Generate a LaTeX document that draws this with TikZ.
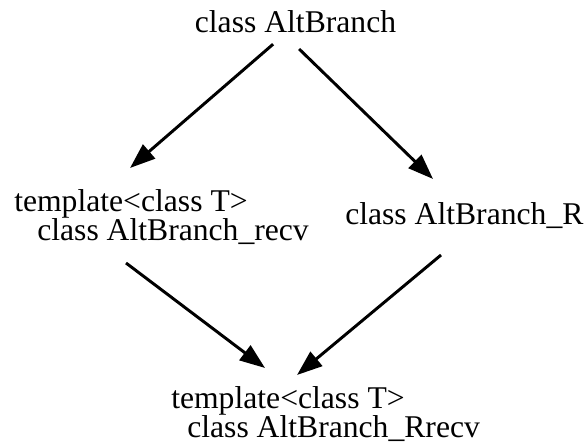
\documentclass[tikz,border=0pt]{standalone}
\usepackage{fontspec}
\setmainfont{Liberation Serif}
\usetikzlibrary{arrows.meta,positioning}

\begin{document}
\begin{tikzpicture}[
  x=0.025cm, y=-0.025cm,
  cls/.style={inner sep=0pt, font=\fontsize{22.5}{21.3}\selectfont,
    align=left},
  inherit/.style={line width=2.1pt,
    -{Triangle[length=18pt, width=13pt]}},
]
  \useasboundingbox (0,0) rectangle (585,444);
  % Classes (base west of the two-line nodes sits on the last line)
  \node[cls, anchor=base] (base) at (295.5,33) {class AltBranch};
  \node[cls, anchor=base west] (recv) at (14,241)
    {template<class T>\\\hspace*{16.4pt}class AltBranch\_recv};
  \node[cls, anchor=base west] (branchr) at (345,225)
    {class AltBranch\_R};
  \node[cls, anchor=base west] (rrecv) at (171,438)
    {template<class T>\\\hspace*{11.4pt}class AltBranch\_Rrecv};
  % Derivation arrows
  \draw[inherit] ([xshift=-0.56cm, yshift=-0.28cm]base.base)
    -- ([xshift=2.9cm, yshift=1.825cm]recv.base west);
  \draw[inherit] ([xshift=0.09cm, yshift=-0.4cm]base.base)
    -- ([xshift=2.2cm, yshift=1.15cm]branchr.base west);
  \draw[inherit] ([xshift=2.8cm, yshift=-0.55cm]recv.base west)
    -- ([xshift=2.35cm, yshift=1.75cm]rrecv.base west);
  \draw[inherit] ([xshift=2.4cm, yshift=-0.75cm]branchr.base west)
    -- ([xshift=3.15cm, yshift=1.575cm]rrecv.base west);
\end{tikzpicture}
\end{document}
